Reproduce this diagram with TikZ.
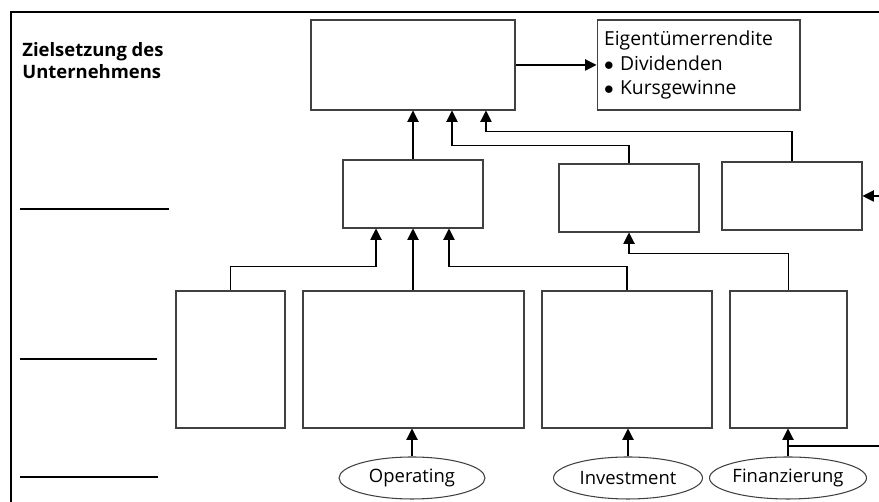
\documentclass[tikz,border=0pt]{standalone}
\usepackage{fontspec}
\setmainfont{Open Sans}
\usetikzlibrary{arrows.meta,shapes.geometric}
\begin{document}
\begin{tikzpicture}[x=0.02cm,y=0.02cm,
box/.style={draw=black!75,line width=0.6pt,inner sep=0pt},
oval/.style={ellipse,draw=black!75,line width=0.6pt,inner sep=0pt,minimum height=0.84cm,font=\fontsize{10.5}{13}\selectfont},
arrow/.style={-{Triangle[length=6.5pt,width=6.5pt]},black,line width=0.6pt},
rule/.style={black,line width=1.1pt}]
\useasboundingbox (0,0) rectangle (879,502);

% frame and left labels
\draw [line width=1pt] (11,0) -- (11,490) -- (879,490);
\node (goal label) at (22,460) [anchor=north west,align=left,inner sep=0pt,font=\fontsize{10.5}{12.5}\selectfont\bfseries] {Zielsetzung des\\Unternehmens};
\draw [rule] (20,293) -- (169,293);
\draw [rule] (20,143) -- (157,143);
\draw [rule] (20,25) -- (158,25);

\node (goal) at (413,437) [box,minimum width=4.08cm,minimum height=1.8cm] {};
\node (owner) at (698.5,437) [box,minimum width=4.06cm,minimum height=1.8cm,align=left,text width=3.78cm,inner xsep=0.14cm,font=\fontsize{11}{13.9}\selectfont] {Eigentümerrendite\\$\bullet$ Dividenden\\$\bullet$ Kursgewinne};

\node (mid1) at (413,308) [box,minimum width=2.8cm,minimum height=1.36cm] {};
\node (mid2) at (629,304) [box,minimum width=2.8cm,minimum height=1.36cm] {};
\node (mid3) at (792,306) [box,minimum width=2.8cm,minimum height=1.36cm] {};

\node (b1) at (230.5,142.5) [box,minimum width=2.18cm,minimum height=2.74cm] {};
\node (b2) at (413.5,142.5) [box,minimum width=4.42cm,minimum height=2.74cm] {};
\node (b3) at (627,142.5) [box,minimum width=3.4cm,minimum height=2.74cm] {};
\node (b4) at (788.5,142.5) [box,minimum width=2.34cm,minimum height=2.74cm] {};

\node (op) at (412,24) [oval,minimum width=2.92cm] {Operating};
\node (inv) at (628,24) [oval,minimum width=2.98cm] {Investment};
\node (fin) at (788,24) [oval,minimum width=3.0cm] {Finanzierung};

\coordinate (right in) at (879,306);
\coordinate (fin in) at (879,56);

\draw [arrow] (goal) -- (owner);
\draw [arrow] (mid1) -- (goal);
\draw [arrow] (mid2.north) -- ++(0,18) -| ([xshift=0.78cm]goal.south);
\draw [arrow] (mid3.north) -- ++(0,30) -| ([xshift=1.46cm]goal.south);
\draw [arrow] (right in) -- (mid3.east);

\draw [arrow] (b1.north) -- ++(0,24) -| ([xshift=-0.74cm]mid1.south);
\draw [arrow] (b2.north -| mid1.south) -- (mid1.south);
\draw [arrow] (b3.north) -- ++(0,24) -| ([xshift=0.72cm]mid1.south);
\draw [arrow] (b4.north) -- ++(0,37) -| (mid2.south);

\draw [arrow] (op) -- (op |- b2.south);
\draw [arrow] (inv) -- (inv |- b3.south);
\draw [arrow] (fin) -- (fin |- b4.south);
\draw [black,line width=0.6pt] (fin in) -- (fin in -| fin.north);

\end{tikzpicture}
\end{document}
